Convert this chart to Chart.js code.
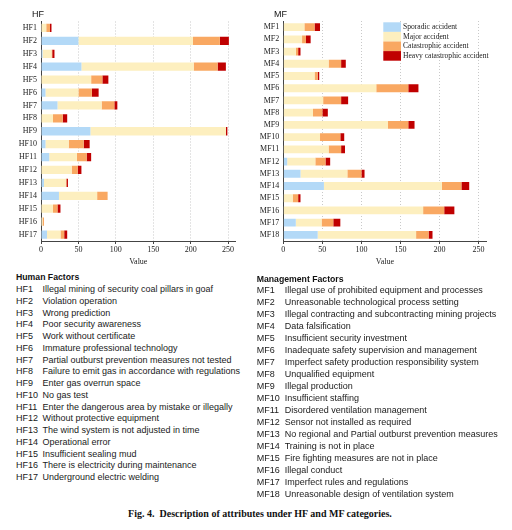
<!DOCTYPE html>
<html>
<head>
<meta charset="utf-8">
<script src="https://cdn.jsdelivr.net/npm/chart.js@4.4.0/dist/chart.umd.min.js"></script>
<style>
  html, body { margin: 0; padding: 0; background: #fff; }
  body { width: 512px; height: 530px; position: relative; overflow: hidden; }
  canvas { position: absolute; }
  .ttl { position: absolute; font-family: "Liberation Sans", Arial, sans-serif; font-size: 9px; color: #111; line-height: 10px; }
  .list { position: absolute; font-family: "Liberation Sans", Arial, sans-serif; font-size: 9px; color: #1a1a1a; white-space: nowrap; }
  .hdr { position: absolute; font-weight: bold; font-family: "Liberation Sans", Arial, sans-serif; font-size: 8.7px; color: #111; white-space: nowrap; }
  .cap { position: absolute; left: 0; width: 520px; text-align: center; font-family: "Liberation Serif", "Times New Roman", serif; font-weight: bold; font-size: 10px; color: #111; }
</style>
</head>
<body>
<canvas id="hf" width="256" height="270" style="left:0;top:0;width:256px;height:270px"></canvas>
<canvas id="mf" width="262" height="270" style="left:250px;top:0;width:262px;height:270px"></canvas>
<div class="ttl" style="left:32px;top:9px">HF</div>
<div class="ttl" style="left:274px;top:9px">MF</div>
<div id="lists"></div>
<div class="cap" style="top:508px">Fig. 4.&nbsp; Description of attributes under HF and MF categories.</div>
<script>
// ---- data ----
const seriesNames = ["Sporadic accident", "Major accident", "Catastrophic accident", "Heavy catastrophic accident"];
const seriesColors = ["#b3d9f7", "#fdefbf", "#f9a862", "#c00000"];

const hfLabels = ["HF1","HF2","HF3","HF4","HF5","HF6","HF7","HF8","HF9","HF10","HF11","HF12","HF13","HF14","HF15","HF16","HF17"];
const hfSporadic     = [0, 50, 2, 54, 0, 6, 22, 0, 66, 6, 11, 0, 4, 24, 0, 0, 8];
const hfMajor        = [7, 153, 12, 150, 67, 44, 59, 16, 181, 31, 37, 41, 29, 51, 16, 2, 18];
const hfCatastrophic = [5, 36, 1, 32, 15, 18, 17, 13, 0, 20, 13, 8, 1, 14, 6, 2, 5];
const hfHeavy        = [2, 12, 3, 11, 8, 9, 4, 6, 2, 8, 6, 5, 2, 0, 4, 0, 4];

const mfLabels = ["MF1","MF2","MF3","MF4","MF5","MF6","MF7","MF8","MF9","MF10","MF11","MF12","MF13","MF14","MF15","MF16","MF17","MF18"];
const mfSporadic     = [0, 0, 0, 0, 0, 0, 0, 0, 0, 0, 0, 5, 22, 52, 0, 0, 16, 44];
const mfMajor        = [27, 24, 16, 58, 40, 119, 51, 38, 134, 47, 58, 36, 60, 151, 12, 179, 33, 126];
const mfCatastrophic = [13, 5, 3, 16, 4, 41, 23, 12, 26, 26, 16, 13, 18, 25, 7, 27, 15, 16];
const mfHeavy        = [7, 6, 3, 6, 2, 13, 9, 7, 8, 5, 5, 6, 4, 10, 3, 13, 9, 5];

const xTicks = [0, 50, 100, 150, 200, 250];
const xMax = 260;

const hfDescs = ["Illegal mining of security coal pillars in goaf","Violation operation","Wrong prediction","Poor security awareness","Work without certificate","Immature professional technology","Partial outburst prevention measures not tested","Failure to emit gas in accordance with regulations","Enter gas overrun space","No gas test","Enter the dangerous area by mistake or illegally","Without protective equipment","The wind system is not adjusted in time","Operational error","Insufficient sealing mud","There is electricity during maintenance","Underground electric welding"];
const mfDescs = ["Illegal use of prohibited equipment and processes","Unreasonable technological process setting","Illegal contracting and subcontracting mining projects","Data falsification","Insufficient security investment","Inadequate safety supervision and management","Imperfect safety production responsibility system","Unqualified equipment","Illegal production","Insufficient staffing","Disordered ventilation management","Sensor not installed as required","No regional and Partial outburst prevention measures","Training is not in place","Fire fighting measures are not in place","Illegal conduct","Imperfect rules and regulations","Unreasonable design of ventilation system"];

// ---- charts ----
function makeChart(id, labels, vals, yWidth, pad, withLegend) {
  const datasets = vals.map((v, i) => ({
    label: seriesNames[i], data: v, backgroundColor: seriesColors[i],
    borderWidth: 0, barPercentage: 0.64, categoryPercentage: 1
  }));
  const legendPlugin = {
    id: 'innerLegend',
    afterDraw(chart) {
      if (!withLegend) return;
      const ctx = chart.ctx, a = chart.chartArea;
      const bx = a.left + 100, by = 22.3, bw = 17.7, bh = 9.6;
      ctx.save();
      ctx.font = '7.6px "Liberation Serif", "Times New Roman", serif';
      ctx.textBaseline = 'middle';
      ctx.textAlign = 'left';
      chart.data.datasets.forEach((ds, i) => {
        ctx.fillStyle = ds.backgroundColor;
        ctx.fillRect(bx, by + i * bh, bw, bh);
        ctx.fillStyle = '#222';
        ctx.fillText(ds.label, bx + bw + 2, by + i * bh + bh / 2);
      });
      ctx.restore();
    }
  };
  return new Chart(document.getElementById(id), {
    type: 'bar',
    data: { labels, datasets },
    plugins: [legendPlugin],
    options: {
      indexAxis: 'y', responsive: false, animation: false,
      layout: { padding: pad },
      plugins: { legend: { display: false }, tooltip: { enabled: false } },
      scales: {
        x: {
          stacked: true, min: 0, max: xMax,
          afterBuildTicks: s => { s.ticks = xTicks.map(v => ({ value: v })); },
          afterFit: s => { s.height = 29; },
          grid: { color: '#c9c9c9', drawTicks: true, tickLength: 3, tickColor: '#444' },
          border: { display: true, color: '#444', width: 1, dash: [1, 2] },
          ticks: { padding: 1, color: '#222', font: { family: '"Liberation Serif", "Times New Roman", serif', size: 8 } },
          title: { display: true, text: 'Value', color: '#222', padding: { top: 0, bottom: 3 },
                   font: { family: '"Liberation Serif", "Times New Roman", serif', size: 8 } }
        },
        y: {
          stacked: true,
          afterFit: s => { s.width = yWidth; },
          grid: { display: false, drawTicks: false },
          border: { display: true, color: '#444', width: 1 },
          ticks: { padding: 4, color: '#222', autoSkip: false, font: { family: '"Liberation Serif", "Times New Roman", serif', size: 8 } }
        }
      }
    }
  });
}

makeChart('hf', hfLabels, [hfSporadic, hfMajor, hfCatastrophic, hfHeavy], 41, { left: 0, right: 20.4, top: 21.5, bottom: 0 }, false);
makeChart('mf', mfLabels, [mfSporadic, mfMajor, mfCatastrophic, mfHeavy], 33.3, { left: 0, right: 25.6, top: 21, bottom: 0 }, true);

// ---- text lists ----
const lists = document.getElementById('lists');
function addText(cls, text, x, yc, lh) {
  const d = document.createElement('div');
  d.className = cls; d.textContent = text;
  d.style.left = x + 'px'; d.style.top = (yc - lh / 2) + 'px'; d.style.lineHeight = lh + 'px';
  lists.appendChild(d);
}
addText('hdr', 'Human Factors', 16, 277, 10);
hfLabels.forEach((c, i) => {
  const y = 289 + i * 11.75;
  addText('list', c, 16, y, 10);
  addText('list', hfDescs[i], 42.5, y, 10);
});
addText('hdr', 'Management Factors', 256.7, 279, 10);
mfLabels.forEach((c, i) => {
  const y = 290 + i * 11.98;
  addText('list', c, 256.7, y, 10);
  addText('list', mfDescs[i], 284.7, y, 10);
});
</script>
</body>
</html>
